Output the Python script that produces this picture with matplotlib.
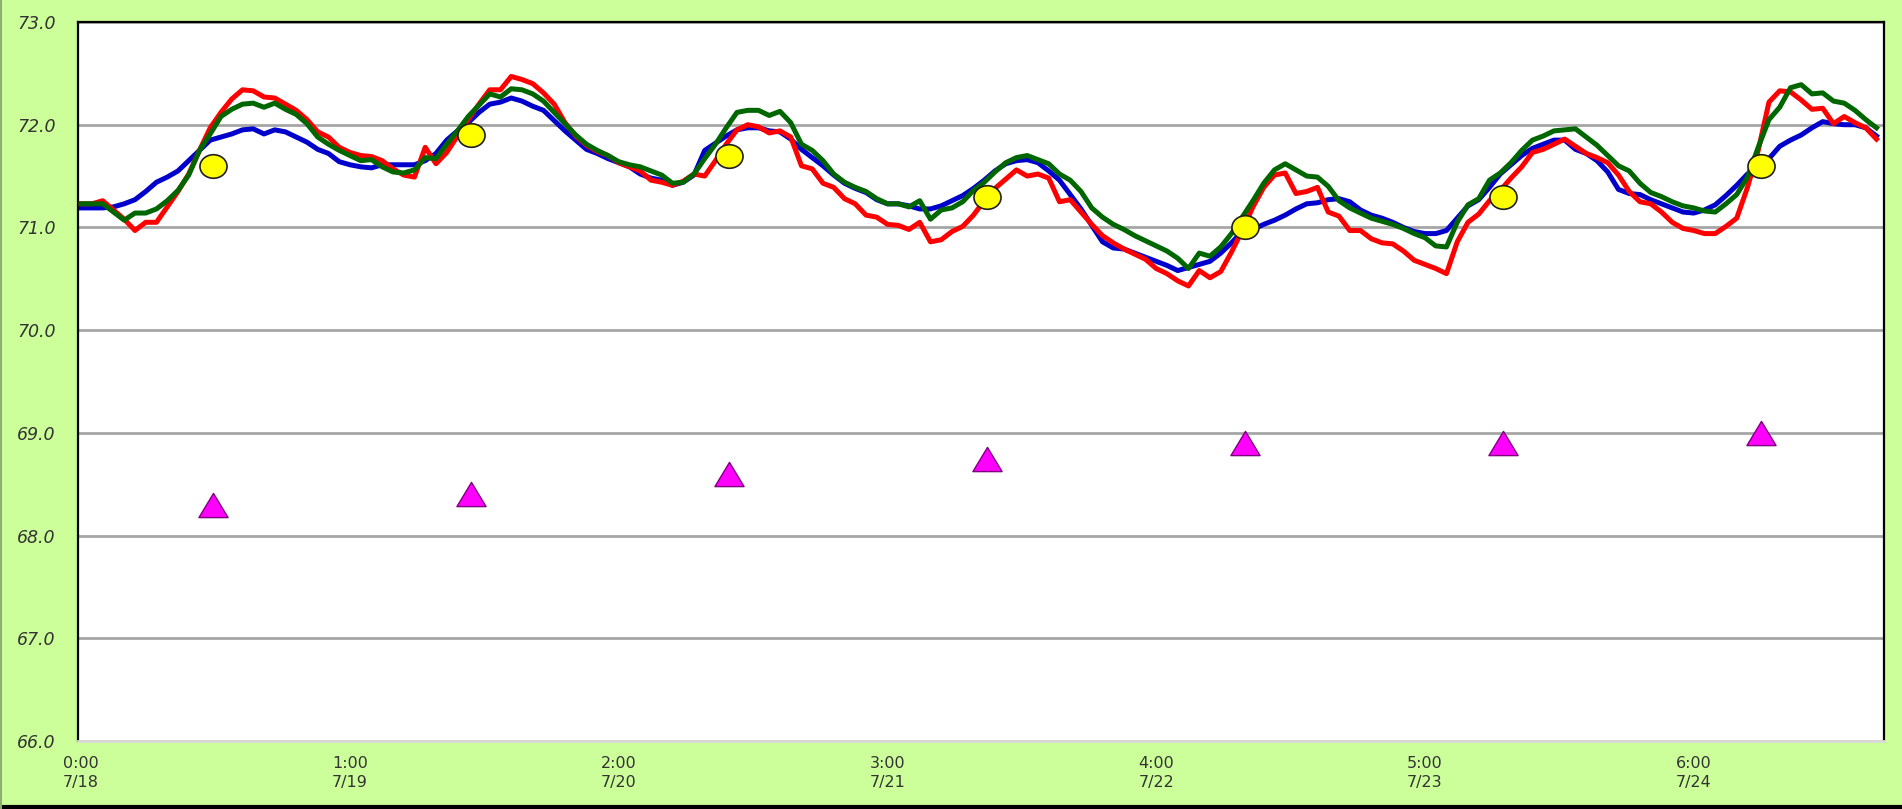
import numpy as np
import matplotlib
matplotlib.use('Agg')
import matplotlib.pyplot as plt
from matplotlib.path import Path
from matplotlib.lines import Line2D


# 1. data (hourly values, hour 0 = 7/18 0:00)
red = [71.23, 71.23, 71.26, 71.17, 71.08, 70.97, 71.05, 71.05, 71.20, 71.35,
       71.52, 71.75, 71.97, 72.12, 72.25, 72.34, 72.33, 72.27, 72.26, 72.20,
       72.14, 72.05, 71.93, 71.88, 71.78, 71.73, 71.70, 71.69, 71.65, 71.57,
       71.51, 71.49, 71.78, 71.62, 71.73, 71.89, 72.05, 72.20, 72.34, 72.34,
       72.47, 72.44, 72.40, 72.31, 72.20, 72.02, 71.89, 71.80, 71.74, 71.70,
       71.63, 71.59, 71.55, 71.46, 71.44, 71.41, 71.45, 71.52, 71.50, 71.65,
       71.81, 71.95, 72.00, 71.98, 71.92, 71.94, 71.88, 71.60, 71.57, 71.43,
       71.39, 71.28, 71.23, 71.12, 71.10, 71.03, 71.02, 70.98, 71.05, 70.86,
       70.88, 70.96, 71.01, 71.12, 71.26, 71.38, 71.47, 71.56, 71.50, 71.52,
       71.48, 71.25, 71.27, 71.15, 71.03, 70.92, 70.85, 70.79, 70.74, 70.69,
       70.60, 70.55, 70.48, 70.43, 70.58, 70.51, 70.57, 70.76, 70.97, 71.20,
       71.39, 71.51, 71.53, 71.33, 71.35, 71.39, 71.15, 71.11, 70.97, 70.97,
       70.89, 70.85, 70.84, 70.77, 70.68, 70.64, 70.60, 70.55, 70.86, 71.05,
       71.13, 71.26, 71.36, 71.48, 71.59, 71.73, 71.76, 71.81, 71.86, 71.79,
       71.72, 71.68, 71.63, 71.51, 71.35, 71.25, 71.23, 71.15, 71.05, 70.99,
       70.97, 70.94, 70.94, 71.01, 71.09, 71.39, 71.75, 72.22, 72.33, 72.32,
       72.24, 72.15, 72.16, 72.01, 72.08, 72.02, 71.97, 71.86]

blue = [71.19, 71.19, 71.19, 71.20, 71.23, 71.27, 71.35, 71.44, 71.49, 71.55,
        71.65, 71.75, 71.85, 71.88, 71.91, 71.95, 71.96, 71.91, 71.95, 71.93,
        71.88, 71.83, 71.76, 71.72, 71.64, 71.61, 71.59, 71.58, 71.61, 71.61,
        71.61, 71.61, 71.65, 71.72, 71.85, 71.94, 72.02, 72.12, 72.20, 72.22,
        72.26, 72.23, 72.18, 72.14, 72.04, 71.94, 71.85, 71.76, 71.72, 71.67,
        71.63, 71.59, 71.52, 71.48, 71.46, 71.41, 71.44, 71.51, 71.75, 71.82,
        71.89, 71.95, 71.97, 71.97, 71.94, 71.93, 71.86, 71.76, 71.68, 71.60,
        71.51, 71.43, 71.38, 71.34, 71.27, 71.23, 71.23, 71.21, 71.18, 71.18,
        71.21, 71.26, 71.31, 71.38, 71.46, 71.55, 71.62, 71.65, 71.66, 71.63,
        71.55, 71.46, 71.32, 71.18, 71.02, 70.86, 70.80, 70.79, 70.75, 70.71,
        70.67, 70.63, 70.58, 70.61, 70.64, 70.67, 70.75, 70.85, 70.96, 70.98,
        71.03, 71.07, 71.12, 71.18, 71.23, 71.24, 71.27, 71.28, 71.25, 71.17,
        71.12, 71.09, 71.05, 71.00, 70.96, 70.94, 70.94, 70.97, 71.09, 71.21,
        71.27, 71.39, 71.52, 71.61, 71.70, 71.77, 71.81, 71.85, 71.85, 71.76,
        71.72, 71.65, 71.54, 71.37, 71.33, 71.32, 71.27, 71.23, 71.19, 71.15,
        71.14, 71.17, 71.22, 71.31, 71.41, 71.52, 71.58, 71.67, 71.79, 71.85,
        71.90, 71.97, 72.03, 72.01, 72.00, 72.00, 71.97, 71.89]

green = [71.23, 71.23, 71.23, 71.15, 71.07, 71.14, 71.14, 71.18, 71.26, 71.36,
         71.51, 71.75, 71.91, 72.08, 72.15, 72.20, 72.21, 72.17, 72.21, 72.15,
         72.10, 72.01, 71.88, 71.81, 71.75, 71.70, 71.65, 71.66, 71.59, 71.54,
         71.53, 71.56, 71.68, 71.67, 71.81, 71.94, 72.08, 72.19, 72.30, 72.27,
         72.35, 72.34, 72.30, 72.23, 72.12, 72.01, 71.90, 71.81, 71.75, 71.70,
         71.64, 71.61, 71.59, 71.55, 71.51, 71.43, 71.44, 71.52, 71.67, 71.81,
         71.97, 72.12, 72.14, 72.14, 72.09, 72.13, 72.02, 71.81, 71.75, 71.65,
         71.52, 71.44, 71.39, 71.35, 71.28, 71.23, 71.23, 71.20, 71.26, 71.08,
         71.17, 71.19, 71.25, 71.36, 71.44, 71.54, 71.63, 71.68, 71.70, 71.66,
         71.62, 71.52, 71.46, 71.35, 71.19, 71.10, 71.03, 70.98, 70.92, 70.87,
         70.82, 70.77, 70.70, 70.60, 70.75, 70.72, 70.81, 70.94, 71.10, 71.26,
         71.43, 71.56, 71.62, 71.56, 71.50, 71.49, 71.40, 71.26, 71.19, 71.14,
         71.09, 71.06, 71.03, 70.99, 70.94, 70.90, 70.82, 70.81, 71.05, 71.22,
         71.28, 71.46, 71.53, 71.63, 71.75, 71.85, 71.89, 71.94, 71.95, 71.96,
         71.88, 71.80, 71.70, 71.60, 71.55, 71.43, 71.34, 71.30, 71.25, 71.21,
         71.19, 71.16, 71.15, 71.23, 71.32, 71.49, 71.78, 72.05, 72.17, 72.36,
         72.39, 72.30, 72.31, 72.23, 72.21, 72.14, 72.05, 71.97]

hours = np.arange(len(red))

# daily points (circle / triangle)
point_x = [12.25, 36.25, 60.25, 84.25, 108.25, 132.25, 156.25]
circle_y = [71.6, 71.9, 71.7, 71.3, 71.0, 71.3, 71.6]
triangle_y = [68.3, 68.4, 68.6, 68.75, 68.9, 68.9, 69.0]

tick_x = [0, 25, 50, 75, 100, 125, 150]
tick_labels = ['0:00\n7/18', '1:00\n7/19', '2:00\n7/20', '3:00\n7/21',
               '4:00\n7/22', '5:00\n7/23', '6:00\n7/24']


# 2. marker shapes (slightly flattened circle / triangle)
uc = Path.unit_circle()
ellipse = Path(uc.vertices * [1.0, 0.87], uc.codes)
tri = Path([(0, 0.83), (-1, -0.83), (1, -0.83), (0, 0.83)],
           [Path.MOVETO, Path.LINETO, Path.LINETO, Path.CLOSEPOLY])


# 3. chart
bg = '#CCFF99'
fig = plt.figure(figsize=(19.02, 8.09), dpi=100, facecolor=bg)
chart = fig.add_axes([78 / 1902, 1 - 741 / 809, (1884 - 78) / 1902, (741 - 22) / 809])
chart.set_facecolor('white')

chart.plot(hours, blue, color='#0000CC', lw=3.6, zorder=3)
chart.plot(hours, red, color='#FF0000', lw=3.6, zorder=4)
chart.plot(hours, green, color='#006600', lw=3.6, zorder=5)

chart.plot(point_x, circle_y, ls='none', marker=ellipse, ms=19.5,
           mfc='#FFFF00', mec='#202020', mew=1.2, zorder=6)
chart.plot(point_x, triangle_y, ls='none', marker=tri, ms=21,
           mfc='#FF00FF', mec='#800080', mew=1.0, zorder=6)

chart.set_xlim(-0.3, 167.7)
chart.set_ylim(66, 73)
chart.set_yticks(np.arange(66, 73.5, 1.0))
chart.set_yticklabels(['%.1f' % v for v in np.arange(66, 73.5, 1.0)],
                      fontsize=12.5, style='italic', color='#333333')
chart.set_xticks(tick_x)
chart.set_xticklabels(tick_labels, fontsize=11.5, color='#333333', linespacing=1.35)
chart.tick_params(axis='y', length=0, pad=16)
chart.tick_params(axis='x', length=0, pad=11)

chart.grid(axis='y', color='#A6A6A6', lw=2.0, zorder=1)
chart.set_axisbelow(True)

for side in ['left', 'top', 'right']:
    chart.spines[side].set_color('black')
    chart.spines[side].set_linewidth(1.6)
chart.spines['bottom'].set_color('#D9D9D9')
chart.spines['bottom'].set_linewidth(2.0)

# outer frame lines
fig.add_artist(Line2D([0, 1], [0.002, 0.002], color='black', lw=3, transform=fig.transFigure))
fig.add_artist(Line2D([0.0005, 0.0005], [0, 1], color='#8FAF70', lw=1.5, transform=fig.transFigure))

plt.savefig('out.png', dpi=100, facecolor=bg)
